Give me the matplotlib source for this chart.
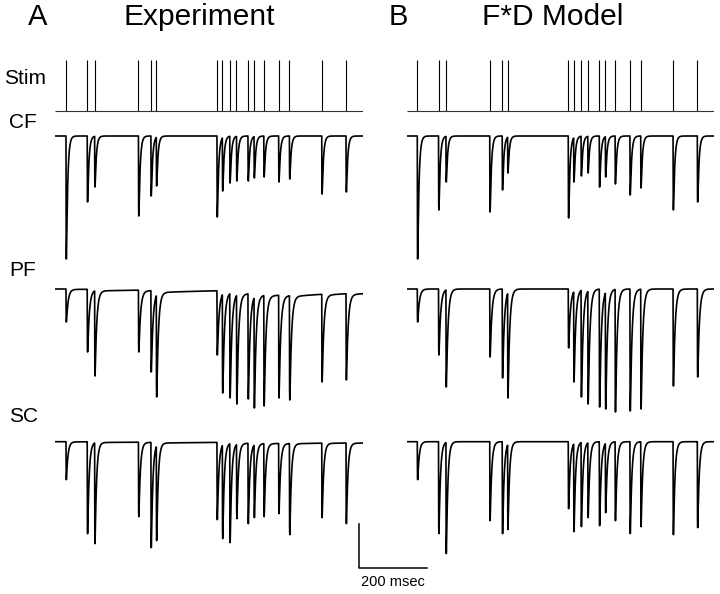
import matplotlib
matplotlib.use("Agg")
import matplotlib.pyplot as plt
import numpy as np

plt.rcParams['font.family'] = ['Liberation Sans', 'DejaVu Sans']

# stimulus train (ms from first pulse), same train in both panels
stim_ms = [0, 63, 85, 215, 252, 268, 448, 464, 486, 506, 540, 558, 587, 631, 663, 759, 831]

# peak depth of the EPSC at each stimulus (arbitrary units)
cf_exp = [123, 66, 51, 80, 60, 50, 81, 55, 47, 45, 45, 42, 41, 46, 43, 58, 56]
cf_mod = [123, 74, 46, 76, 54, 37, 82, 46, 40, 37, 51, 41, 48, 59, 52, 74, 66]
pf_exp = [33, 63, 87, 63, 83, 108, 66, 104, 109, 115, 110, 119, 117, 109, 111, 93, 91]
pf_mod = [33, 66, 98, 68, 89, 109, 59, 93, 108, 115, 118, 120, 123, 122, 120, 97, 88]
sc_exp = [38, 92, 102, 75, 106, 99, 78, 97, 101, 77, 82, 76, 75, 72, 93, 76, 82]
sc_mod = [38, 92, 112, 79, 92, 88, 67, 90, 85, 76, 84, 71, 79, 92, 85, 93, 86]

t = np.arange(-32, 882, 0.1)


def kernel(dt, tau_r, tau_d):
    tp = tau_r * tau_d / (tau_d - tau_r) * np.log(tau_d / tau_r)
    norm = np.exp(-tp / tau_d) - np.exp(-tp / tau_r)
    dt = np.asarray(dt, dtype=float)
    k = np.exp(-np.clip(dt, 0, None) / tau_d) - np.exp(-np.clip(dt, 0, None) / tau_r)
    return np.where(dt > 0, k / norm, 0.0), tp


def synth(times, depths, tau_d, tau_r=0.4, slow=0.0, slow_tau=250.0):
    # scale each event so the summed trace hits the measured peak
    _, tp = kernel(1.0, tau_r, tau_d)
    amps = []
    for i, (ti, d) in enumerate(zip(times, depths)):
        res = 0.0
        for tj, aj in zip(times[:i], amps):
            dt = ti + tp - tj
            res += aj * (kernel(dt, tau_r, tau_d)[0] + slow * np.exp(-dt / slow_tau))
        amps.append((d - res) / (1 + slow))
    y = np.zeros_like(t)
    for ti, a in zip(times, amps):
        k, _ = kernel(t - ti, tau_r, tau_d)
        y += a * (k + slow * np.where(t > ti, np.exp(-(t - ti) / slow_tau), 0))
    return y


fig = plt.figure(figsize=(7.2, 5.94), dpi=100)
W, H = 720, 594

# row baselines (figure pixels from top)
stim_base, stim_top = 110.7, 60
rows = {'CF': 136, 'PF': 289, 'SC': 441.7}

panels = [
    (55.2, [cf_exp, pf_exp, sc_exp], [0.0, 0.012, 0.004]),
    (406.5, [cf_mod, pf_mod, sc_mod], [0.0, 0.0, 0.0]),
]
taus = [4.0, 5.0, 4.5]

axes = []
for x0, sets, slows in panels:
    ax = fig.add_axes([x0 / W, 0, 308 / W, 1])
    ax.set_xlim(-32, 882)
    ax.set_ylim(H, 0)
    ax.axis('off')
    ax.vlines(stim_ms, stim_top, stim_base, color='black', lw=0.8)
    ax.hlines(stim_base, -32, 882, color='#333333', lw=0.8)
    for (name, base), depths, sl, td in zip(rows.items(), sets, slows, taus):
        y = synth(stim_ms, depths, td, slow=sl)
        ax.plot(t, base + y, color='black', lw=1.2)
    axes.append(ax)

# scale bar (200 ms)
ax = axes[0]
ax.plot([871, 871, 1071], [524.3, 567.7, 567.7], color='black', lw=1.1, clip_on=False)
ax.text(971, 582, '200 msec', ha='center', va='center', fontsize=10.5)

def ftext(x, y, s, **kw):
    fig.text(x / W, 1 - y / H, s, va='center', **kw)

ftext(28, 17, 'A', fontsize=21)
ftext(123, 17, 'Experiment', fontsize=21.5)
ftext(389, 17, 'B', fontsize=21)
ftext(482, 17, 'F*D Model', fontsize=21.5)
ftext(4, 78, 'Stim', fontsize=15)
for name, yy in [('CF', 122.5), ('PF', 270.5), ('SC', 416)]:
    ftext(9, yy, name, fontsize=15)

fig.savefig('out.png', dpi=100)
